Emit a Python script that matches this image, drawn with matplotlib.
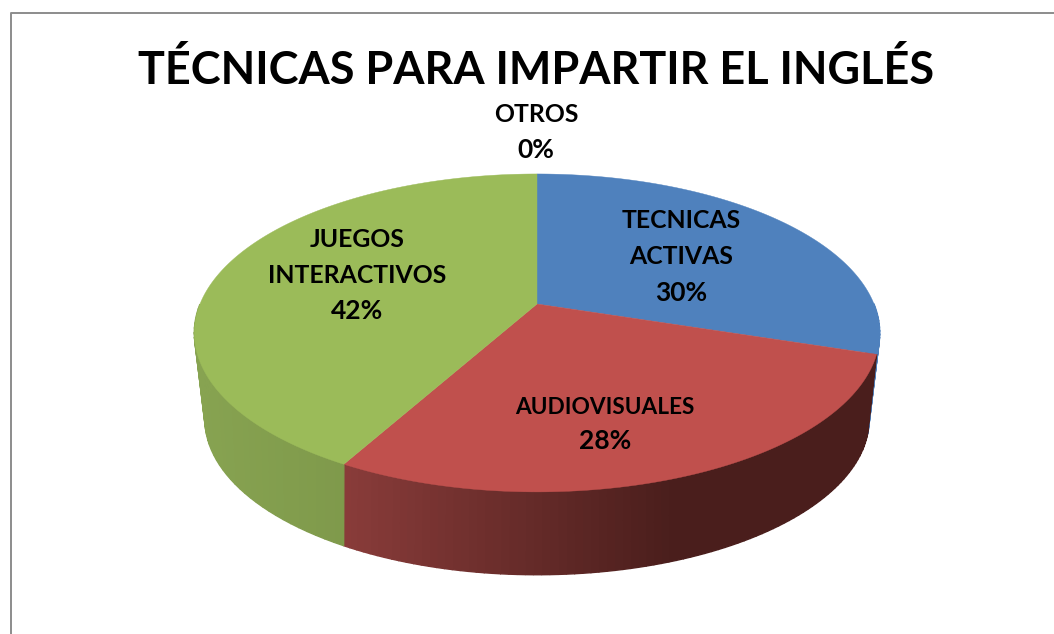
import numpy as np
import matplotlib
matplotlib.use("Agg")
import matplotlib.pyplot as plt
from matplotlib.colors import to_rgb

categories = ["TECNICAS\nACTIVAS", "AUDIOVISUALES", "JUEGOS\nINTERACTIVOS", "OTROS"]
values = [30, 28, 42, 0]
top_colors = ["#4F81BD", "#C0504D", "#9BBB59", "#8064A2"]
side_left = ["#4F81BD", "#8A3C3A", "#87A351", "#8064A2"]
side_right = ["#4F81BD", "#4A1E1C", "#758E44", "#8064A2"]
gradient_reach = [1.0, 0.62, 1.0, 1.0]
title = "TÉCNICAS PARA IMPARTIR EL INGLÉS"

plt.rcParams["font.family"] = ["Lato", "DejaVu Sans"]
W, H = 1054, 634
fig = plt.figure(figsize=(W / 100, H / 100), dpi=100)
ax = fig.add_axes([0, 0, 1, 1])
ax.set_xlim(0, W)
ax.set_ylim(H, 0)
ax.axis("off")

CX, CY, A, B, K = 537, 304, 337, 153.7, 0.182
CY2, A2, B2, K2 = 385, 324, 148, 0.22


def project(theta, cy=CY, a=A, b=B, k=K):
    u, v = np.sin(theta), np.cos(theta)
    w = 1 + k * v
    return CX + a * u / w, cy - b * v / w


total = sum(values)
edges = np.radians(np.cumsum([0] + values) / total * 360)

# side wall: only the part that faces the viewer
for i in range(len(values)):
    t0, t1 = edges[i], edges[i + 1]
    if t1 <= t0:
        continue
    ts = np.linspace(t0, t1, 90)
    c0, c1 = np.array(to_rgb(side_left[i])), np.array(to_rgb(side_right[i]))
    xt, yt = project(ts)
    xb, yb = project(ts, CY2, A2, B2, K2)
    span = xt.max() - xt.min()
    for j in range(len(ts) - 1):
        if np.cos(ts[j]) > 0.02 or np.cos(ts[j + 1]) > 0.02:
            continue
        f = min(1.0, (xt[j] - xt.min()) / span / gradient_reach[i])
        col = c0 + (c1 - c0) * f
        ax.fill([xt[j], xt[j + 1], xb[j + 1], xb[j]],
                [yt[j], yt[j + 1], yb[j + 1], yb[j]],
                color=col, lw=1.0, zorder=2)

# top face
for i in range(len(values)):
    t0, t1 = edges[i], edges[i + 1]
    if t1 <= t0:
        continue
    ts = np.linspace(t0, t1, 300)
    x, y = project(ts)
    ax.fill(np.r_[CX, x], np.r_[CY, y], color=top_colors[i], lw=0.3, zorder=3)

# frame
ax.plot([10.5, 10.5, W], [H, 12.5, 12.5], color="#8C8C8C", lw=1.4, zorder=1)

ax.text(536, 71, title, ha="center", va="center", fontsize=32.4,
        fontweight="bold", color="black", zorder=5)
name_pos = [(681, 238.5), (605, 407), (357, 257.5), (536, 114)]
pct_pos = [(681, 293), (605, 441), (357, 311), (536, 150)]
name_size = [17.8, 16.3, 17.8, 17.8]
for name, val, (nx, ny), (px, py), fs in zip(categories, values, name_pos, pct_pos, name_size):
    ax.text(nx, ny, name, ha="center", va="center", fontsize=fs,
            fontweight="bold", color="black", linespacing=1.67, zorder=5)
    ax.text(px, py, f"{val}%", ha="center", va="center", fontsize=19,
            fontweight="bold", color="black", zorder=5)

fig.savefig("out.png", dpi=100)
